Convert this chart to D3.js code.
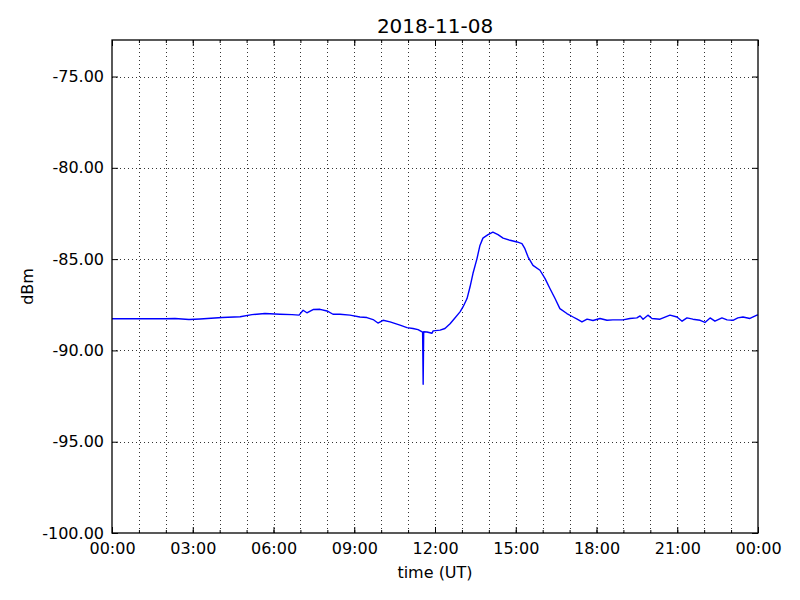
<!DOCTYPE html>
<html>
<head>
<meta charset="utf-8">
<script src="https://cdn.jsdelivr.net/npm/d3@7"></script>
<style>
  body { margin: 0; background: #fff; }
  svg { display: block; }
  text { font-family: "DejaVu Sans", sans-serif; fill: #000; }
</style>
</head>
<body>
<div id="chart"></div>
<script>
// ---- data ----
const chartTitle = "2018-11-08";
const xLabel = "time (UT)";
const yLabel = "dBm";
const yTicks = [-100, -95, -90, -85, -80, -75];
// time in decimal hours (UT)
const hours = [
  0.00, 1.04, 1.97, 2.34, 2.86, 3.27, 4.09, 4.76, 5.20, 5.68, 6.24, 6.69, 6.95,
  7.10, 7.24, 7.47, 7.73, 7.99, 8.21, 8.47, 8.84, 9.21, 9.47, 9.70, 9.88, 10.07,
  10.33, 10.70, 10.96, 11.18, 11.37, 11.54, 11.56, 11.58, 11.70, 11.89, 11.93,
  12.19, 12.37, 12.56, 12.67, 12.93, 13.04, 13.19, 13.30, 13.41, 13.56, 13.67,
  13.78, 13.97, 14.15, 14.34, 14.53, 14.79, 15.05, 15.23, 15.34, 15.46, 15.64,
  15.90, 16.09, 16.27, 16.46, 16.64, 16.90, 17.13, 17.28, 17.46, 17.65, 17.87,
  18.13, 18.39, 18.61, 18.98, 19.24, 19.50, 19.62, 19.73, 19.91, 20.06, 20.36,
  20.73, 20.99, 21.18, 21.36, 21.58, 21.85, 22.03, 22.22, 22.40, 22.66, 22.85,
  23.07, 23.25, 23.44, 23.70, 23.96, 24.00
];
const dbm = [
  -88.27, -88.27, -88.27, -88.25, -88.31, -88.28, -88.20, -88.16, -88.04, -87.98, -88.02, -88.04, -88.07,
  -87.80, -87.94, -87.76, -87.75, -87.84, -88.02, -88.02, -88.07, -88.17, -88.20, -88.31, -88.50, -88.35,
  -88.44, -88.62, -88.75, -88.80, -88.86, -89.00, -91.85, -88.98, -88.99, -89.06, -88.93,
  -88.89, -88.80, -88.54, -88.35, -87.89, -87.62, -87.16, -86.53, -85.79, -84.97, -84.25,
  -83.85, -83.66, -83.52, -83.66, -83.85, -83.97, -84.06, -84.15, -84.43, -84.89, -85.34,
  -85.61, -86.07, -86.61, -87.16, -87.71, -87.98, -88.17, -88.29, -88.44, -88.29, -88.36,
  -88.25, -88.35, -88.33, -88.33, -88.25, -88.22, -88.11, -88.29, -88.07, -88.25, -88.29,
  -88.07, -88.17, -88.40, -88.22, -88.29, -88.35, -88.47, -88.22, -88.40, -88.22, -88.33,
  -88.35, -88.22, -88.17, -88.25, -88.07, -88.05
];

// ---- layout ----
const W = 800, H = 600;
const m = { left: 112, right: 42, top: 40, bottom: 67 };
const iw = W - m.left - m.right, ih = H - m.top - m.bottom;

const day0 = new Date(Date.UTC(2018, 10, 8));
const day1 = new Date(Date.UTC(2018, 10, 9));
const toDate = h => new Date(day0.getTime() + h * 3600e3);
const data = hours.map((h, i) => ({ t: toDate(h), v: dbm[i] }));

const x = d3.scaleUtc().domain([day0, day1]).range([0, iw]);
const y = d3.scaleLinear().domain([-100, -73]).range([ih, 0]);

const svg = d3.select("#chart").append("svg").attr("width", W).attr("height", H);
const g = svg.append("g").attr("transform", `translate(${m.left},${m.top})`);

const majorX = d3.utcHour.every(3).range(day0, new Date(day1.getTime() + 1));
const minorX = d3.utcHour.every(1).range(day0, new Date(day1.getTime() + 1));

// grid
const grid = g.append("g").attr("stroke", "#000").attr("stroke-width", 0.8)
  .attr("stroke-dasharray", "1,3").attr("fill", "none");
grid.selectAll("line.vx").data(minorX.slice(1, -1)).join("line")
  .attr("x1", d => Math.round(x(d)) + 0.5).attr("x2", d => Math.round(x(d)) + 0.5)
  .attr("y1", 0).attr("y2", ih);
grid.selectAll("line.hy").data(yTicks.filter(v => v > -100)).join("line")
  .attr("y1", d => Math.round(y(d)) + 0.5).attr("y2", d => Math.round(y(d)) + 0.5)
  .attr("x1", 0).attr("x2", iw);

// axes (inward ticks, classic style)
const fmt = d3.utcFormat("%H:%M");
const yFmt = v => v.toFixed(2);
const xb = g.append("g").attr("transform", `translate(0,${ih})`)
  .call(d3.axisBottom(x).tickValues(majorX).tickFormat(fmt).tickSizeInner(-6).tickSizeOuter(0).tickPadding(10));
const xbm = g.append("g").attr("transform", `translate(0,${ih})`)
  .call(d3.axisBottom(x).tickValues(minorX).tickFormat("").tickSizeInner(-3).tickSizeOuter(0));
const xt = g.append("g")
  .call(d3.axisTop(x).tickValues(majorX).tickFormat("").tickSizeInner(-6).tickSizeOuter(0));
const xtm = g.append("g")
  .call(d3.axisTop(x).tickValues(minorX).tickFormat("").tickSizeInner(-3).tickSizeOuter(0));
const yl = g.append("g")
  .call(d3.axisLeft(y).tickValues(yTicks).tickFormat(yFmt).tickSizeInner(-6).tickSizeOuter(0).tickPadding(8));
const yr = g.append("g").attr("transform", `translate(${iw},0)`)
  .call(d3.axisRight(y).tickValues(yTicks).tickFormat("").tickSizeInner(-6).tickSizeOuter(0));

[xb, xbm, xt, xtm, yl, yr].forEach(a => {
  a.select(".domain").remove();
  a.selectAll(".tick line").attr("stroke", "#000").attr("stroke-width", 1);
  a.selectAll(".tick text").attr("font-size", 16).attr("font-family", "DejaVu Sans, sans-serif").attr("fill", "#000");
});
xb.selectAll(".tick text").attr("dy", "0.71em");

// line
const line = d3.line().x(d => x(d.t)).y(d => y(d.v));
g.append("path").datum(data).attr("d", line)
  .attr("fill", "none").attr("stroke", "#0000ff").attr("stroke-width", 1.4)
  .attr("stroke-linejoin", "round");

// frame
g.append("rect").attr("x", 0).attr("y", 0).attr("width", iw).attr("height", ih)
  .attr("fill", "none").attr("stroke", "#000").attr("stroke-width", 1.3);

// labels
svg.append("text").attr("x", m.left + iw / 2).attr("y", 33).attr("text-anchor", "middle")
  .attr("font-size", 20).text(chartTitle);
svg.append("text").attr("x", m.left + iw / 2).attr("y", 578).attr("text-anchor", "middle")
  .attr("font-size", 16).text(xLabel);
svg.append("text").attr("transform", `translate(33,${m.top + ih / 2}) rotate(-90)`)
  .attr("text-anchor", "middle").attr("font-size", 16).text(yLabel);
</script>
</body>
</html>
